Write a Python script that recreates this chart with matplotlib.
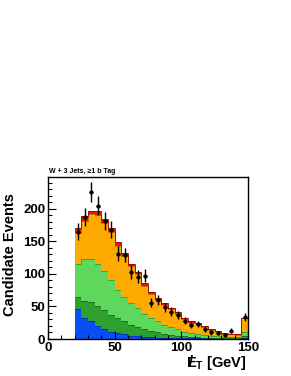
import numpy as np
import matplotlib as mpl
mpl.use('Agg')
import matplotlib.pyplot as plt

mpl.rcParams.update({
    'font.family': ['Liberation Sans', 'DejaVu Sans'],
    'font.weight': 'bold',
    'mathtext.fontset': 'custom',
    'mathtext.rm': 'Liberation Sans:bold',
    'mathtext.bf': 'Liberation Sans:bold',
    'mathtext.it': 'Liberation Sans:bold',
})

# 5 GeV bins from 20 to 150 GeV (last bin holds overflow)
edges = np.arange(20, 151, 5)

# stacked background components (events per bin), bottom to top
blue = [46, 33, 27, 20, 15, 11, 9, 7, 5, 4, 3, 3, 2, 2, 2, 1, 1, 1, 1, 1,
        0.5, 0.5, 0.5, 0.5, 0.5, 1]
dark_green = [19, 25, 30, 30, 30, 26, 23, 20, 17, 14, 12, 9, 8, 6, 4, 4, 3, 2,
              2, 1, 1.5, 1.5, 0.5, 0.5, 0.5, 3]
light_green = [51, 65, 66, 65, 59, 53, 43, 38, 33, 29, 23, 20, 17, 14, 12, 10,
               7, 6, 4, 4, 3, 2, 2, 2, 2, 6]
orange = [47, 59, 69, 76, 74, 75, 68, 63, 57, 53, 44, 37, 33, 30, 28, 24, 20,
          16, 17, 13, 9, 7, 5, 4, 3, 22]
red = [7, 7, 5, 5, 7, 5, 6, 4, 4, 3, 4, 4, 3, 3, 2, 2, 2, 2, 1, 1, 1, 1, 1, 1,
       1, 1]

# observed candidates (nan = empty bin)
data = [165, 187, 226, 205, 181, 168, 131, 129, 103, 96, 97, 56, 60, 49, 42,
        37, 28, 22, 23, 15, 10, 9, 6, 13, np.nan, 34]

layers = [
    (blue, '#0a4ff5', '#0030b0'),
    (dark_green, '#2f9f2f', '#1d6b1d'),
    (light_green, '#5dd85d', '#3a9a3a'),
    (orange, '#ffaa00', '#b06a00'),
    (red, '#ee1111', '#a00000'),
]

fig = plt.figure(figsize=(2.91, 3.76), dpi=100)
ax = fig.add_axes([48 / 291, 1 - 339 / 376, 200 / 291, 162 / 376])

base = np.zeros(len(edges) - 1)
for vals, fc, ec in layers:
    top = base + np.asarray(vals, dtype=float)
    ax.stairs(top, edges, baseline=base, fill=True, color=fc, lw=0)
    ax.stairs(top, edges, baseline=None, color=ec, lw=0.6)
    base = top

centers = 0.5 * (edges[:-1] + edges[1:])
d = np.asarray(data, dtype=float)
ax.errorbar(centers, d, yerr=np.sqrt(d), xerr=1.6, fmt='o', ms=2.0,
            color='black', elinewidth=1.0, capsize=0, zorder=5)

ax.set_xlim(0, 150)
ax.set_ylim(0, 249)
ax.set_xticks([0, 50, 100, 150])
ax.set_xticks(np.arange(0, 151, 10), minor=True)
ax.set_yticks([0, 50, 100, 150, 200])
ax.set_yticks(np.arange(0, 241, 10), minor=True)
ax.tick_params(which='both', direction='in', top=False, right=False,
               width=0.8, labelsize=9.5)
ax.tick_params(which='major', length=6, pad=2)
ax.tick_params(which='minor', length=3)
for lab in ax.get_xticklabels() + ax.get_yticklabels():
    lab.set_fontweight('bold')
for s in ax.spines.values():
    s.set_linewidth(1.0)

fig.text(10 / 291, 1 - 255 / 376, 'Candidate Events', rotation=90,
         ha='center', va='center', fontsize=10.5, fontweight='bold')
xl = fig.text(247 / 291, 1 - 363 / 376, r'$\mathbf{E}_{\mathbf{T}}$ [GeV]',
              ha='right', va='center', fontsize=10.5, fontweight='bold')
fig.text(49 / 291, 1 - 172 / 376, 'W + 3 Jets, \u22651 b Tag',
         ha='left', va='center', fontsize=5.0, fontweight='bold')

# slash through the E for missing transverse energy
fig.canvas.draw()
bb = xl.get_window_extent(renderer=fig.canvas.get_renderer())
fig.text((bb.x0 + 4.5) / 291, 1 - 362 / 376, '/', ha='center', va='center',
         fontsize=10.5, fontweight='bold')

fig.savefig('out.png', dpi=100)
